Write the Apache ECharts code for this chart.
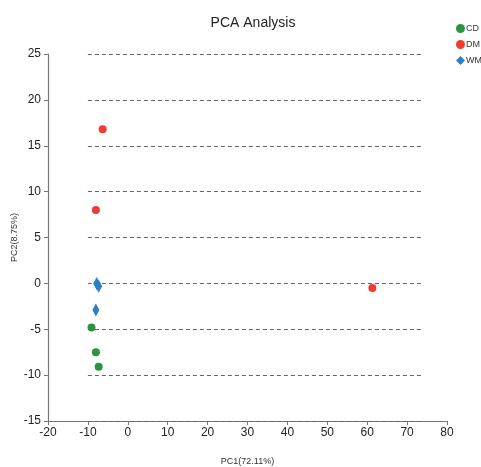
<!DOCTYPE html>
<html>
<head>
<meta charset="utf-8">
<script src="https://cdn.jsdelivr.net/npm/echarts@6/dist/echarts.min.js"></script>
<style>
  html, body { margin: 0; padding: 0; background: #fff; }
  #chart { width: 481px; height: 467px; }
</style>
</head>
<body>
<div id="chart"></div>
<script>
// PCA 散点图数据
var groupNames = ['CD', 'DM', 'WMF'];
var cdPoints = [[-9.1, -4.8], [-8.0, -7.5], [-7.3, -9.1]];
var dmPoints = [[-6.3, 16.8], [-8.0, 8.0], [61.3, -0.5]];
var wmfPoints = [[-7.8, 0.0], [-7.3, -0.3], [-8.0, -2.9]];
var gridLevels = [25, 20, 15, 10, 5, 0, -5, -10, -15];
var gridFrom = -10;
var gridTo = 73.5;

var colors = ['#2a9441', '#ee3b33', '#2a80c6'];
var font = 'Liberation Sans';

var option = {
    backgroundColor: '#fff',
    color: colors,
    title: {
        text: 'PCA Analysis',
        left: 248,
        textAlign: 'center',
        top: 11,
        textStyle: { fontSize: 14, fontWeight: 'normal', color: '#222', fontFamily: font }
    },
    legend: {
        orient: 'vertical',
        left: 451,
        top: 19,
        itemGap: 7,
        itemWidth: 9,
        itemHeight: 9,
        textStyle: { fontSize: 9, color: '#333', fontFamily: font, padding: [0, 0, 0, -4] },
        data: [
            { name: groupNames[0], icon: 'circle' },
            { name: groupNames[1], icon: 'circle' },
            { name: groupNames[2], icon: 'diamond' }
        ]
    },
    grid: { left: 48, right: 34, top: 54, bottom: 46, containLabel: false, outerBoundsMode: 'none' },
    xAxis: {
        type: 'value',
        min: -20, max: 80, interval: 10,
        name: 'PC1(72.11%)',
        nameLocation: 'middle',
        nameGap: 36,
        nameMoveOverlap: false,
        nameTextStyle: { fontSize: 9, color: '#333', fontFamily: font },
        axisLine: { onZero: false, lineStyle: { color: '#777', width: 1.2 } },
        axisTick: { show: true, length: 4, lineStyle: { color: '#777' } },
        axisLabel: { fontSize: 12, color: '#222', margin: 6, fontFamily: font },
        splitLine: { show: false }
    },
    yAxis: {
        type: 'value',
        min: -15, max: 25, interval: 5,
        name: 'PC2(8.75%)',
        nameLocation: 'middle',
        nameGap: 29,
        nameMoveOverlap: false,
        nameTextStyle: { fontSize: 9, color: '#333', fontFamily: font },
        axisLine: { show: true, onZero: false, lineStyle: { color: '#777', width: 1.2 } },
        axisTick: { show: true, length: 4, lineStyle: { color: '#777' } },
        axisLabel: { fontSize: 12, color: '#222', margin: 7, fontFamily: font },
        splitLine: { show: false }
    },
    series: [
        {
            name: groupNames[0], type: 'scatter', symbol: 'circle', symbolSize: 8,
            itemStyle: { opacity: 1 },
            data: cdPoints, z: 5,
            markLine: {
                silent: true,
                symbol: 'none',
                label: { show: false },
                lineStyle: { color: '#666', type: [4, 3], width: 1 },
                data: gridLevels.map(function (v) {
                    return [{ coord: [gridFrom, v] }, { coord: [gridTo, v] }];
                })
            }
        },
        { name: groupNames[1], type: 'scatter', symbol: 'circle', symbolSize: 8, itemStyle: { opacity: 1 }, data: dmPoints, z: 5 },
        { name: groupNames[2], type: 'scatter', symbol: 'diamond', symbolSize: [7, 13], itemStyle: { opacity: 1 }, data: wmfPoints, z: 5 }
    ]
};

var myChart = echarts.init(document.getElementById('chart'));
myChart.setOption(option);
</script>
</body>
</html>
